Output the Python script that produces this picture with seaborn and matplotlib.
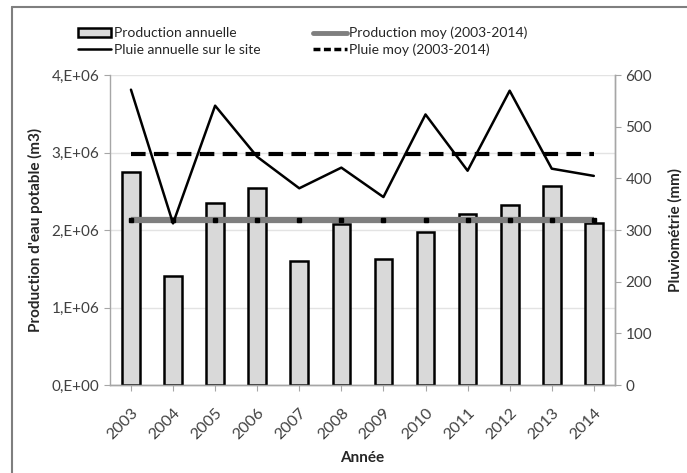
import numpy as np
import pandas as pd
import matplotlib
matplotlib.use('Agg')
import matplotlib.pyplot as plt
import seaborn as sns
from matplotlib.ticker import FuncFormatter, MultipleLocator
from matplotlib.patches import Patch
from matplotlib.lines import Line2D

# Data
annees = ['2003', '2004', '2005', '2006', '2007', '2008',
          '2009', '2010', '2011', '2012', '2013', '2014']
production = [2.75e6, 1.41e6, 2.35e6, 2.54e6, 1.60e6, 2.08e6,
              1.63e6, 1.98e6, 2.21e6, 2.32e6, 2.57e6, 2.09e6]
pluie = [572, 313, 541, 442, 381, 421, 364, 524, 415, 570, 419, 405]

prod_moy = np.mean(production)
pluie_moy = np.mean(pluie)

df = pd.DataFrame({'Annee': annees, 'Production': production, 'Pluie': pluie})
df['pos'] = np.arange(len(df))

sns.set_style('white')
plt.rcParams['font.family'] = ['Lato', 'DejaVu Sans']
plt.rcParams['font.size'] = 11

fig = plt.figure(figsize=(6.87, 4.73), dpi=100)
ax = fig.add_axes([0.16, 0.186, 0.735, 0.655])

# 1. Bars - annual production
sns.barplot(data=df, x='Annee', y='Production', ax=ax, color='#d9d9d9',
            edgecolor='black', linewidth=1.8, width=0.42, saturation=1, zorder=3)

# mean production line
ax.plot(df['pos'], [prod_moy] * len(df), color='#7f7f7f', lw=4.5, zorder=4,
        solid_capstyle='butt', marker='s', markersize=2.5,
        markerfacecolor='black', markeredgecolor='black')

ax.set_ylim(0, 4e6)
ax.set_xlim(-0.5, len(df) - 0.5)
ax.yaxis.set_major_locator(MultipleLocator(1e6))
ax.yaxis.set_major_formatter(FuncFormatter(
    lambda v, p: '0,E+00' if v == 0 else f'{v / 1e6:.0f},E+06'))
ax.grid(axis='y', color='#e3e3e3', lw=1, zorder=0)
ax.set_axisbelow(True)

# 2. Rain on the right axis
ax2 = ax.twinx()
sns.lineplot(data=df, x='pos', y='Pluie', ax=ax2, color='black', lw=1.8, zorder=5)
ax2.plot(df['pos'], [pluie_moy] * len(df), color='black', lw=3,
         dashes=(3.5, 2), zorder=5)
ax2.set_ylim(0, 600)
ax2.yaxis.set_major_locator(MultipleLocator(100))
ax2.set_xlim(-0.5, len(df) - 0.5)

# 3. Axis styling
for a in (ax, ax2):
    a.spines['top'].set_visible(False)
    for s in ['left', 'right', 'bottom']:
        a.spines[s].set_color('#a6a6a6')
        a.spines[s].set_linewidth(1)
    a.tick_params(axis='both', colors='#a6a6a6', labelcolor='#404040',
                  labelsize=11, length=4, direction='out')

ax.set_xticks(df['pos'])
ax.set_xticklabels(annees, rotation=45, ha='right', rotation_mode='anchor',
                   fontsize=11.5)
ax.tick_params(axis='x', length=4, bottom=True, pad=11)
ax.set_xlabel('Année', fontweight='bold', fontsize=11, color='#262626', labelpad=6)
ax.set_ylabel("Production d'eau potable (m3)", fontweight='bold',
              fontsize=11, color='#262626', labelpad=6)
ax2.set_ylabel('Pluviométrie (mm)', fontweight='bold', fontsize=11,
               color='#262626', labelpad=12)
ax2.spines['left'].set_visible(False)

# 4. Legend on top
handles = [
    Patch(facecolor='#d9d9d9', edgecolor='black', linewidth=1.8),
    Line2D([], [], color='black', lw=1.8),
    Line2D([], [], color='#7f7f7f', lw=3.5),
    Line2D([], [], color='black', lw=2.5, dashes=(2, 1)),
]
labels = ['Production annuelle', 'Pluie annuelle sur le site',
          'Production moy (2003-2014)', 'Pluie moy (2003-2014)']
fig.legend(handles, labels, ncol=2, loc='upper left',
           bbox_to_anchor=(0.105, 0.955), frameon=False, fontsize=10,
           handlelength=2.4, handletextpad=0.2, columnspacing=3.8,
           labelspacing=0.3, borderaxespad=0)

# frame around figure (top and left)
fig.add_artist(Line2D([0.017, 1.0], [0.985, 0.985], color='#7f7f7f', lw=1.5,
                      transform=fig.transFigure))
fig.add_artist(Line2D([0.017, 0.017], [0.0, 0.985], color='#7f7f7f', lw=1.5,
                      transform=fig.transFigure))

fig.savefig('out.png', dpi=100)
